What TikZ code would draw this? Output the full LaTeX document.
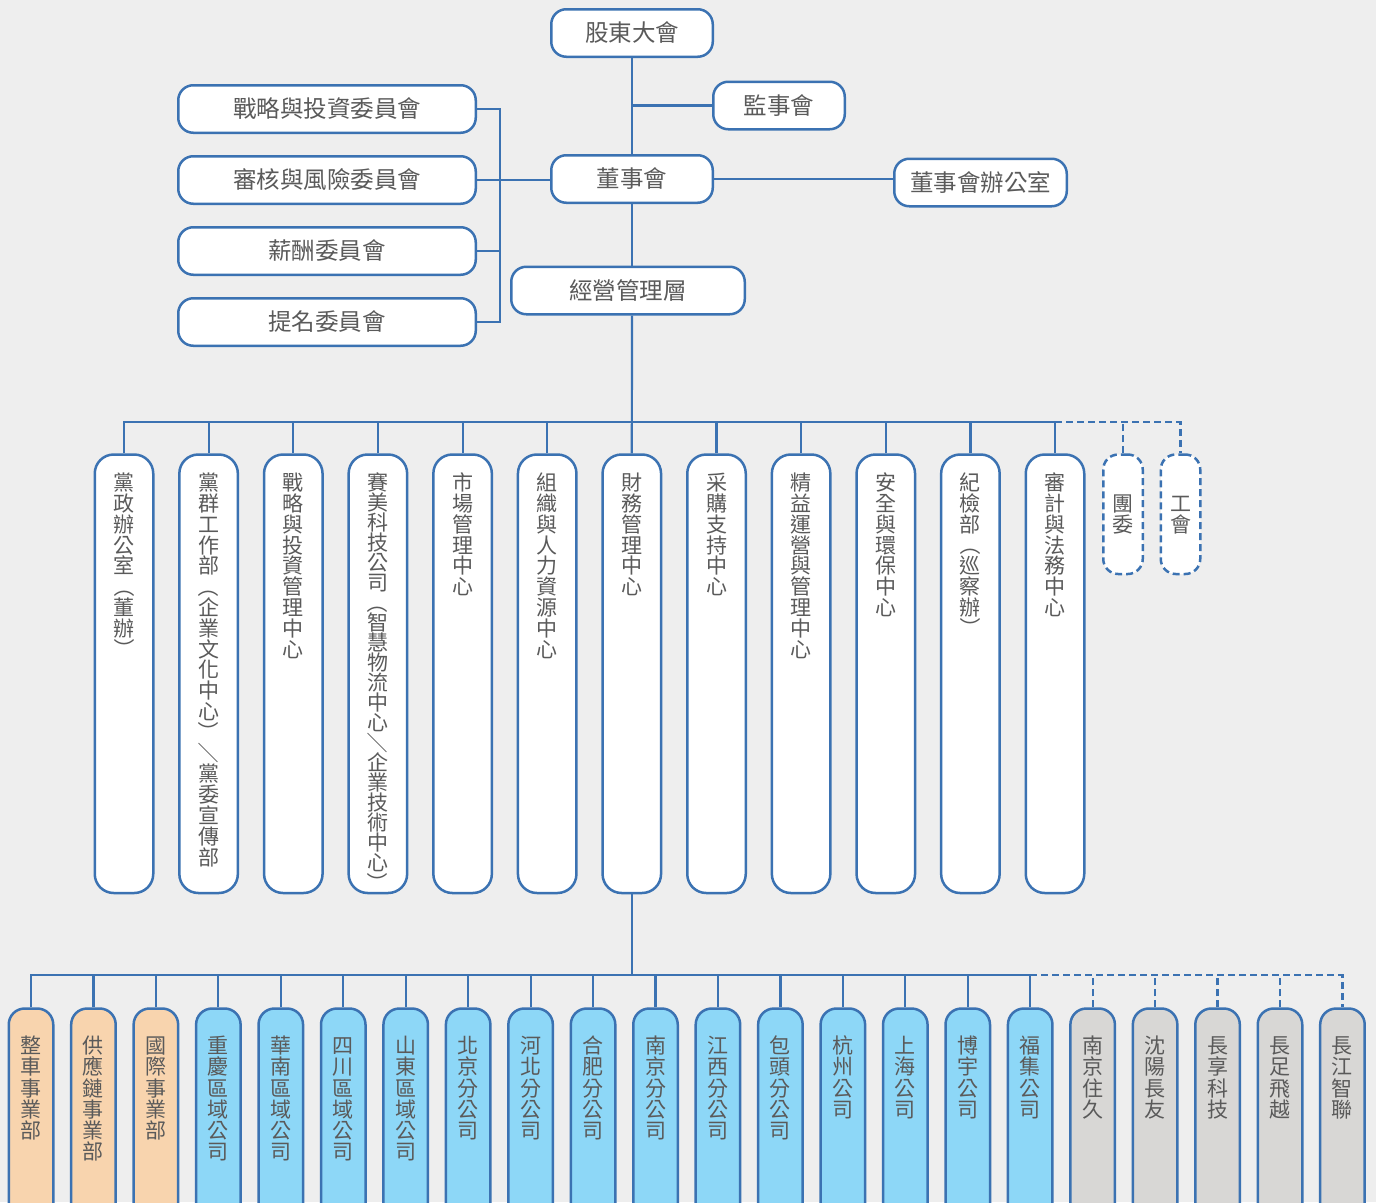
\documentclass[tikz,border=0pt]{standalone}
\usepackage{fontspec}
\setmainfont{Noto Sans CJK TC}
\usepackage{graphicx}
\usetikzlibrary{calc}
\definecolor{bgc}{HTML}{EEEEEE}
\definecolor{lnc}{HTML}{3B72B2}
\definecolor{txc}{HTML}{5A5A5A}
\definecolor{orgc}{HTML}{F8D4AE}
\definecolor{skyc}{HTML}{8DD7F7}
\definecolor{gryc}{HTML}{D8D7D5}
\newcommand\vl{\rotatebox[origin=c]{-90}{（}}
\newcommand\vr{\rotatebox[origin=c]{-90}{）}}
\newcommand\vsl{\rotatebox[origin=c]{-90}{／}}
\newcommand\vcell[1]{\hbox to 21pt{\hss\vrule height 18.5pt depth 2.5pt width 0pt\relax #1\hss}}
\def\vsA#1#2\vsEnd{\vcell{#1}\ifx\relax#2\relax\else\vsA#2\vsEnd\fi}
\newcommand\vtext[4]{\vbox to #1{\baselineskip=#3\lineskiplimit=-30pt\lineskip=0pt\vskip#2\relax\vsA#4\vsEnd\vfil}}
\newcommand\vnat[2]{\vbox{\baselineskip=#1\lineskiplimit=-30pt\lineskip=0pt\vsA#2\vsEnd}}
\tikzset{
  topbox/.style={draw=lnc, line width=2.5pt, fill=white, rounded corners=15pt, inner sep=0pt,
    minimum height=47.5pt, font=\fontsize{23.5}{28}\selectfont, text=txc},
  midbox/.style={draw=lnc, line width=2.5pt, fill=white, rounded corners=19pt, inner sep=0pt,
    minimum width=58.5pt, anchor=north, font=\fontsize{21}{21}\selectfont, text=txc},
  dashbox/.style={draw=lnc, line width=2.5pt, fill=white, rounded corners=15pt, inner sep=0pt,
    minimum width=39.5pt, minimum height=119.5pt, anchor=north, dash pattern=on 7pt off 4pt,
    font=\fontsize{21}{21}\selectfont, text=txc},
  botbox/.style={draw=lnc, line width=2.5pt, rounded corners=16pt, inner sep=0pt,
    minimum width=44.5pt, anchor=north, font=\fontsize{21}{21}\selectfont, text=txc},
  conn/.style={draw=lnc, line width=2.2pt},
  dashline/.style={draw=lnc, line width=2.2pt, dash pattern=on 7pt off 4pt},
}
\begin{document}
\begin{tikzpicture}[x=1pt,y=-1pt]
\useasboundingbox (0,0) rectangle (1376,1202);
\clip (0,0) rectangle (1376,1202);
\fill[bgc] (0,0) rectangle (1376,1202);
% top part
\node[topbox, minimum width=161.5pt] (gd) at (632,33) {股東大會};
\node[topbox, minimum width=131.5pt] (js) at (779,105.5) {監事會};
\node[topbox, minimum width=161.5pt] (dsh) at (632,179) {董事會};
\node[topbox, minimum width=172.5pt] (bgs) at (980.5,182.5) {董事會辦公室};
\node[topbox, minimum width=233.5pt] (jy) at (628,290.5) {經營管理層};
\node[topbox, minimum width=297.5pt] (c1) at (327,109) {戰略與投資委員會};
\node[topbox, minimum width=297.5pt] (c2) at (327,180) {審核與風險委員會};
\node[topbox, minimum width=297.5pt] (c3) at (327,251) {薪酬委員會};
\node[topbox, minimum width=297.5pt] (c4) at (327,322) {提名委員會};
% middle row
\node[midbox] (m1) at (124,453.25) {\vtext{438.5pt}{17.6pt}{20.8pt}{黨政辦公室{\vl}董辦{\vr}}};
\node[midbox] (m2) at (208.6,453.25) {\vtext{438.5pt}{17.6pt}{20.8pt}{黨群工作部{\vl}企業文化中心{\vr}{\vsl}黨委宣傳部}};
\node[midbox] (m3) at (293.3,453.25) {\vtext{438.5pt}{17.6pt}{20.8pt}{戰略與投資管理中心}};
\node[midbox] (m4) at (377.9,453.25) {\vtext{438.5pt}{17.6pt}{20.0pt}{賽美科技公司{\vl}智慧物流中心{\vsl}企業技術中心{\vr}}};
\node[midbox] (m5) at (462.6,453.25) {\vtext{438.5pt}{17.6pt}{20.8pt}{市場管理中心}};
\node[midbox] (m6) at (547.2,453.25) {\vtext{438.5pt}{17.6pt}{20.8pt}{組織與人力資源中心}};
\node[midbox] (m7) at (631.8,453.25) {\vtext{438.5pt}{17.6pt}{20.8pt}{財務管理中心}};
\node[midbox] (m8) at (716.5,453.25) {\vtext{438.5pt}{17.6pt}{20.8pt}{采購支持中心}};
\node[midbox] (m9) at (801.1,453.25) {\vtext{438.5pt}{17.6pt}{20.8pt}{精益運營與管理中心}};
\node[midbox] (m10) at (885.8,453.25) {\vtext{438.5pt}{17.6pt}{20.8pt}{安全與環保中心}};
\node[midbox] (m11) at (970.4,453.25) {\vtext{438.5pt}{17.6pt}{20.8pt}{紀檢部{\vl}巡察辦{\vr}}};
\node[midbox] (m12) at (1055,453.25) {\vtext{438.5pt}{17.6pt}{20.8pt}{審計與法務中心}};
\node[dashbox] (tw) at (1123,453.25) {\vnat{20.8pt}{團委}};
\node[dashbox] (gh) at (1180.5,453.25) {\vnat{20.8pt}{工會}};
% bottom row
\node[botbox, fill=orgc] (b1) at (31,1007.25) {\vtext{260pt}{26.6pt}{21.2pt}{整車事業部}};
\node[botbox, fill=orgc] (b2) at (93.45,1007.25) {\vtext{260pt}{26.6pt}{21.2pt}{供應鏈事業部}};
\node[botbox, fill=orgc] (b3) at (155.9,1007.25) {\vtext{260pt}{26.6pt}{21.2pt}{國際事業部}};
\node[botbox, fill=skyc] (b4) at (218.35,1007.25) {\vtext{260pt}{26.6pt}{21.2pt}{重慶區域公司}};
\node[botbox, fill=skyc] (b5) at (280.8,1007.25) {\vtext{260pt}{26.6pt}{21.2pt}{華南區域公司}};
\node[botbox, fill=skyc] (b6) at (343.25,1007.25) {\vtext{260pt}{26.6pt}{21.2pt}{四川區域公司}};
\node[botbox, fill=skyc] (b7) at (405.7,1007.25) {\vtext{260pt}{26.6pt}{21.2pt}{山東區域公司}};
\node[botbox, fill=skyc] (b8) at (468.15,1007.25) {\vtext{260pt}{26.6pt}{21.2pt}{北京分公司}};
\node[botbox, fill=skyc] (b9) at (530.6,1007.25) {\vtext{260pt}{26.6pt}{21.2pt}{河北分公司}};
\node[botbox, fill=skyc] (b10) at (593.05,1007.25) {\vtext{260pt}{26.6pt}{21.2pt}{合肥分公司}};
\node[botbox, fill=skyc] (b11) at (655.5,1007.25) {\vtext{260pt}{26.6pt}{21.2pt}{南京分公司}};
\node[botbox, fill=skyc] (b12) at (717.95,1007.25) {\vtext{260pt}{26.6pt}{21.2pt}{江西分公司}};
\node[botbox, fill=skyc] (b13) at (780.4,1007.25) {\vtext{260pt}{26.6pt}{21.2pt}{包頭分公司}};
\node[botbox, fill=skyc] (b14) at (842.85,1007.25) {\vtext{260pt}{26.6pt}{21.2pt}{杭州公司}};
\node[botbox, fill=skyc] (b15) at (905.3,1007.25) {\vtext{260pt}{26.6pt}{21.2pt}{上海公司}};
\node[botbox, fill=skyc] (b16) at (967.75,1007.25) {\vtext{260pt}{26.6pt}{21.2pt}{博宇公司}};
\node[botbox, fill=skyc] (b17) at (1030.2,1007.25) {\vtext{260pt}{26.6pt}{21.2pt}{福集公司}};
\node[botbox, fill=gryc] (b18) at (1092.65,1007.25) {\vtext{260pt}{26.6pt}{21.2pt}{南京住久}};
\node[botbox, fill=gryc] (b19) at (1155.1,1007.25) {\vtext{260pt}{26.6pt}{21.2pt}{沈陽長友}};
\node[botbox, fill=gryc] (b20) at (1217.55,1007.25) {\vtext{260pt}{26.6pt}{21.2pt}{長享科技}};
\node[botbox, fill=gryc] (b21) at (1280,1007.25) {\vtext{260pt}{26.6pt}{21.2pt}{長足飛越}};
\node[botbox, fill=gryc] (b22) at (1342.45,1007.25) {\vtext{260pt}{26.6pt}{21.2pt}{長江智聯}};
% connectors top
\draw[conn] (gd.south) -- (dsh.north);
\draw[conn] (js.west) -- (js.west -| gd.south);
\draw[conn] (dsh.east) -- (bgs.west |- dsh.east);
\draw[conn] (c1.east) -- ++(23,0) coordinate (br) |- (c4.east);
\draw[conn] (c2.east) -- (c2.east -| dsh.west);
\draw[conn] (c3.east) -- (c3.east -| br);
\draw[conn] (dsh.south) -- (dsh.south |- jy.north);
\coordinate (mb) at ($(m1.north)+(0,-31)$);
\draw[conn] (dsh.south |- jy.south) -- (m7.north);
\draw[conn] (m1.north) -- (m1.north |- mb) -- (m12.north |- mb) -- (m12.north);
\foreach \i in {2,3,4,5,6,8,9,10,11}{\draw[conn] (m\i.north) -- (m\i.north |- mb);}
\draw[dashline] (m12.north |- mb) -| (gh.north);
\draw[dashline] (tw.north) -- (tw.north |- mb);
% connectors bottom
\coordinate (bb) at ($(b1.north)+(0,-32)$);
\draw[conn] (m7.south) -- (m7.south |- bb);
\draw[conn] (b1.north) -- (b1.north |- bb) -- (b17.north |- bb) -- (b17.north);
\foreach \j in {2,...,16}{\draw[conn] (b\j.north) -- (b\j.north |- bb);}
\draw[dashline] (b17.north |- bb) -| (b22.north);
\foreach \j in {18,...,21}{\draw[dashline] (b\j.north) -- (b\j.north |- bb);}
\end{tikzpicture}
\end{document}
